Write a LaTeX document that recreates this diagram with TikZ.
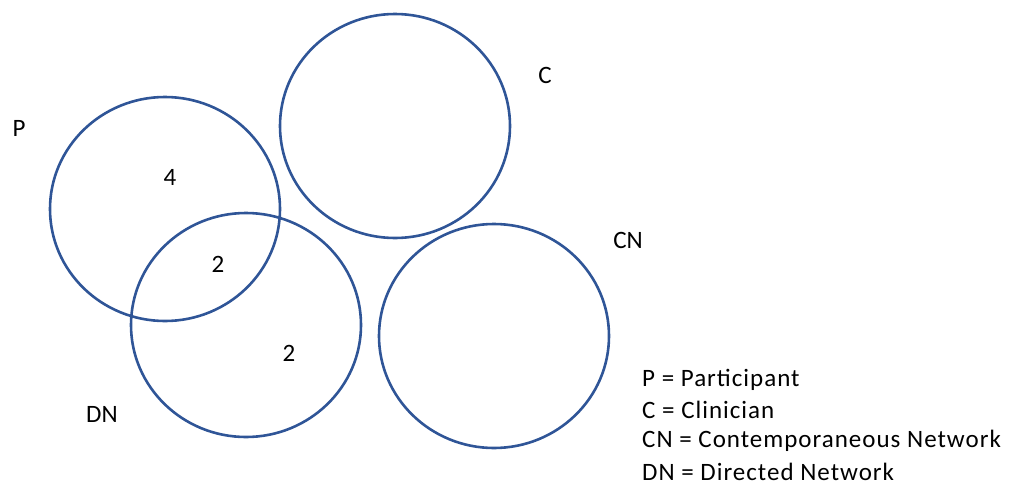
\documentclass[tikz,border=0pt]{standalone}
\usepackage{fontspec}
\setmainfont{Carlito}
\newfontfamily\legfont[LetterSpace=4]{Carlito}
\definecolor{ring}{HTML}{2F5597}
\begin{document}
\begin{tikzpicture}[x=1pt,y=-1pt,
  ring/.style={draw=ring,line width=2.6pt},
  lab/.style={font=\fontsize{25}{30}\selectfont,inner sep=0pt},
  leg/.style={font=\legfont\fontsize{25}{30}\selectfont,inner sep=0pt,anchor=west}]
\useasboundingbox (0,0) rectangle (1012,493);
\draw[ring] (165,209) ellipse [x radius=115, y radius=112];
\draw[ring] (395,126) ellipse [x radius=115, y radius=112];
\draw[ring] (246,325) ellipse [x radius=115, y radius=112];
\draw[ring] (494,336) ellipse [x radius=115, y radius=112];
\node[lab] (lp) at (19,128) {P};
\node[lab] (lc) at (545,75) {C};
\node[lab] (lcn) at (628,240) {CN};
\node[lab] (ldn) at (102,414) {DN};
\node[lab] (n4) at (170,177) {4};
\node[lab] (n2a) at (218,264) {2};
\node[lab] (n2b) at (289,353) {2};
\node[leg] (l1) at (642,380) {P = Participant};
\node[leg] (l2) at (642,410) {C = Clinician};
\node[leg] (l3) at (642,441) {CN = Contemporaneous Network};
\node[leg] (l4) at (642,472) {DN = Directed Network};
\end{tikzpicture}
\end{document}
